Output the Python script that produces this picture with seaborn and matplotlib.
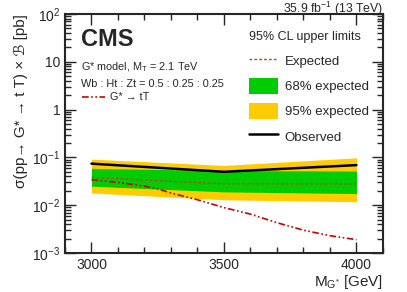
import matplotlib
matplotlib.use("Agg")
import matplotlib.pyplot as plt
import seaborn as sns
import pandas as pd
from matplotlib.ticker import LogLocator, MultipleLocator, FixedLocator, NullFormatter

# limit points
mass = [3000, 3500, 4000]
observed = [0.074, 0.050, 0.069]
expected = [0.038, 0.028, 0.028]
band68_lo = [0.025, 0.019, 0.0175]
band68_hi = [0.059, 0.053, 0.052]
band95_lo = [0.018, 0.013, 0.0118]
band95_hi = [0.092, 0.068, 0.098]

# theory curve
theory_mass = [3000, 3100, 3200, 3250, 3300, 3400, 3500, 3600, 3700, 3800, 3900, 4000]
theory_xsec = [0.034, 0.030, 0.025, 0.022, 0.018, 0.013, 0.0089, 0.0065, 0.0043, 0.0030, 0.0023, 0.0019]

sns.set_style("ticks")
plt.rcParams['font.family'] = ['Liberation Sans', 'DejaVu Sans']
plt.rcParams['mathtext.fontset'] = 'custom'
plt.rcParams['mathtext.rm'] = 'Liberation Sans'
plt.rcParams['mathtext.it'] = 'Liberation Sans:italic'
plt.rcParams['mathtext.bf'] = 'Liberation Sans:bold'

fig = plt.figure(figsize=(4.07, 2.92), dpi=100)
ax = fig.add_axes([65 / 407, 1 - 253 / 292, 318 / 407, 239 / 292])

ax.fill_between(mass, band95_lo, band95_hi, color='#ffcc00', lw=0, label='95% expected')
ax.fill_between(mass, band68_lo, band68_hi, color='#00cc00', lw=0, label='68% expected')

lim = pd.DataFrame({'mass': mass, 'observed': observed, 'expected': expected})
th = pd.DataFrame({'mass': theory_mass, 'xsec': theory_xsec})
sns.lineplot(data=lim, x='mass', y='expected', ax=ax, color='#a0522d', lw=1.0,
             linestyle=(0, (2, 1.5)), label='Expected')
sns.lineplot(data=lim, x='mass', y='observed', ax=ax, color='black', lw=1.8, label='Observed')
sns.lineplot(data=th, x='mass', y='xsec', ax=ax, color='#cc0000', lw=1.2,
             linestyle=(0, (4, 1.5, 1, 1.5, 1, 1.5)), label='G* → tT')

ax.set_yscale('log')
ax.set_xlim(2900, 4100)
ax.set_ylim(1e-3, 1e2)
ax.xaxis.set_major_locator(FixedLocator([3000, 3500, 4000]))
ax.xaxis.set_minor_locator(MultipleLocator(100))
ax.yaxis.set_minor_locator(LogLocator(base=10, subs=range(2, 10), numticks=20))
ax.yaxis.set_minor_formatter(NullFormatter())
ax.set_yticks([1e-3, 1e-2, 1e-1, 1, 10, 100])
ax.set_yticklabels(['$10^{-3}$', '$10^{-2}$', '$10^{-1}$', '1', '10', '$10^{2}$'])
ax.tick_params(which='both', direction='in', top=True, right=True, labelsize=10)
ax.tick_params(which='major', length=8, width=1)
ax.tick_params(which='minor', length=4, width=1)
for s in ax.spines.values():
    s.set_linewidth(1.5)

ax.set_xlabel(r'M$_{\mathrm{G^{*}}}$ [GeV]', fontsize=11, loc='right', labelpad=1)
ax.set_ylabel('σ(pp→ G* → t T) × ℬ [pb]', fontsize=11, loc='top', labelpad=3)

ax.get_legend().remove()
h, l = ax.get_legend_handles_labels()
order = ['Expected', '68% expected', '95% expected', 'Observed']
leg = ax.legend([h[l.index(k)] for k in order], order, loc='upper left',
                bbox_to_anchor=(0.542, 0.978), frameon=False, fontsize=9.5,
                title='95% CL upper limits', title_fontsize=9,
                handlelength=2.2, handleheight=1.45, labelspacing=0.72,
                handletextpad=0.5)
leg._legend_box.align = 'left'
leg._legend_box.sep = 7

ax.text(0.05, 0.94, 'CMS', transform=ax.transAxes, fontsize=17, fontweight='bold', va='top')
ax.text(0.05, 0.805, r'G* model, M$_{\mathrm{T}}$ = 2.1 TeV', transform=ax.transAxes, fontsize=7.8, va='top')
ax.text(0.05, 0.73, 'Wb : Ht : Zt = 0.5 : 0.25 : 0.25', transform=ax.transAxes, fontsize=7.8, va='top')
ax.plot([0.055, 0.125], [0.653, 0.653], transform=ax.transAxes, color='#cc0000', lw=1.2,
        linestyle=(0, (4, 1.5, 1, 1.5, 1, 1.5)))
ax.text(0.14, 0.653, 'G* → tT', transform=ax.transAxes, fontsize=7.8, va='center')

fig.text(383 / 407, 1 - 12.5 / 292, r'35.9 fb$^{-1}$ (13 TeV)', ha='right', va='baseline', fontsize=8.8)

fig.savefig('out.png', dpi=100)
